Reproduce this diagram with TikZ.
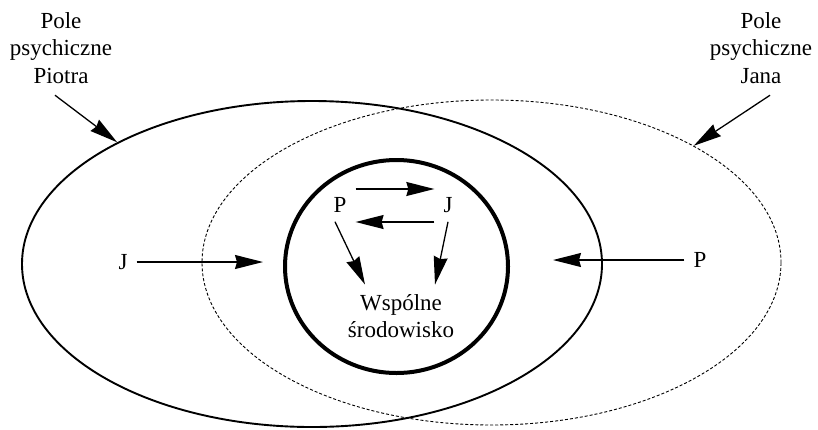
\documentclass[tikz,border=0pt]{standalone}
\usepackage{fontspec}
\setmainfont{Liberation Serif}
\usetikzlibrary{shapes.geometric,arrows.meta}

\begin{document}
\begin{tikzpicture}[x=1pt, y=-1pt, font=\fontsize{23}{27.6}\selectfont, >={Stealth[length=28pt,width=14pt,inset=2pt]},
  pole/.style={ellipse, draw, inner sep=0pt, minimum width=580pt, minimum height=326pt},
  litera/.style={inner sep=9pt},
  strz/.style={->, line width=1.3pt}]
\useasboundingbox (0,0) rectangle (818,429);
\node[pole, line width=1.9pt] (PP) at (312,264) {};
\node[pole, line width=0.9pt, dash pattern=on 3pt off 2pt, minimum width=579pt, minimum height=325pt] (PJ) at (491.5,262.5) {};
\node[ellipse, draw, line width=4pt, inner sep=0pt, minimum width=223pt, minimum height=213pt] (WS) at (396.5,266.5) {};
\node[align=center] (LP) at (61,48) {Pole\\psychiczne\\Piotra};
\node[align=center] (LJ) at (761,48) {Pole\\psychiczne\\Jana};
\node[litera] (J1) at (123,262) {J};
\node[litera] (P1) at (700,260) {P};
\node[litera] (P2) at (340,205) {P};
\node[litera] (J2) at (448,205) {J};
\node[align=center] (WT) at (401,316) {Wspólne\\środowisko};
\coordinate (J1k) at (263,262);
\coordinate (P1k) at (553,260);
\draw[strz] ([shift={(-6pt,-8pt)}]LP.south) -- (PP.148.8); \draw[strz] ([shift={(9pt,-8pt)}]LJ.south) -- (PJ.30.6);
\draw[strz] (J1) -- (J1k); \draw[strz] (P1) -- (P1k);
\draw[strz] ([yshift=16pt]P2.east) -- ([yshift=16pt]J2.west); \draw[strz] ([yshift=-17pt]J2.west) -- ([yshift=-17pt]P2.east);
\draw[strz] ([xshift=-5pt]P2.south) -- ([shift={(-36pt,6pt)}]WT.north); \draw[strz] (J2.south) -- ([shift={(34pt,6pt)}]WT.north);
\end{tikzpicture}
\end{document}
